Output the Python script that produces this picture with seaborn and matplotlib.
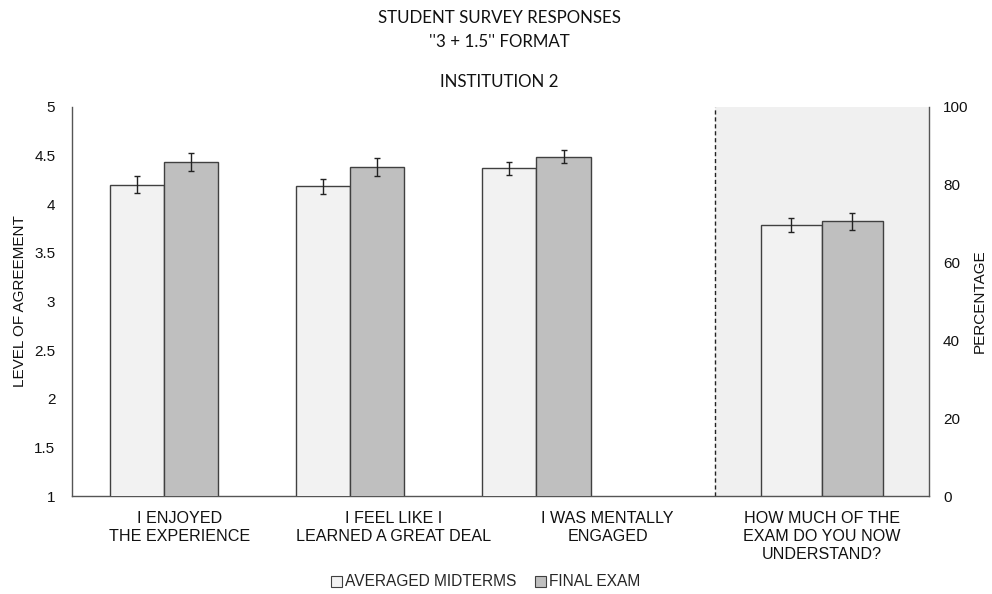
import numpy as np
import pandas as pd
import matplotlib
matplotlib.use("Agg")
import matplotlib.pyplot as plt
import seaborn as sns
from matplotlib.patches import Patch

# ---------------- data ----------------
categories = ["I ENJOYED\nTHE EXPERIENCE", "I FEEL LIKE I\nLEARNED A GREAT DEAL",
              "I WAS MENTALLY\nENGAGED", "HOW MUCH OF THE\nEXAM DO YOU NOW\nUNDERSTAND?"]
series = ["AVERAGED MIDTERMS", "FINAL EXAM"]
# agreement (left axis, 1-5) for first three questions
midterm_agree = [4.20, 4.185, 4.37]
final_agree = [4.435, 4.385, 4.49]
midterm_agree_err = [0.087, 0.077, 0.067]
final_agree_err = [0.09, 0.09, 0.07]
# percentage (right axis, 0-100) for the last question
midterm_pct = [69.7]
final_pct = [70.6]
midterm_pct_err = [1.8]
final_pct_err = [2.1]
left_ticks = [1, 1.5, 2, 2.5, 3, 3.5, 4, 4.5, 5]
left_ticklabels = ["1", "1.5", "2", "2.5", "3", "3.5", "4", "4.5", "5"]
right_ticks = [0, 20, 40, 60, 80, 100]

sns.set_theme(style="white")
plt.rcParams['font.family'] = ['Liberation Sans', 'DejaVu Sans']

fig = plt.figure(figsize=(9.92, 5.94), dpi=100)
ax = fig.add_axes([72/992, 1-496/594, (929-72)/992, (496-107)/594])
ax2 = ax.twinx()

colors = {"AVERAGED MIDTERMS": "#f2f2f2", "FINAL EXAM": "#bfbfbf"}
edge = "#404040"

# layout for the first three groups (Excel-like offset)
spacing = 0.869
offset = -0.07
pos_agree = offset + spacing * np.arange(len(midterm_agree))
df1 = pd.DataFrame({
    "pos": np.concatenate([pos_agree, pos_agree]),
    "series": [series[0]] * 3 + [series[1]] * 3,
    "value": midterm_agree + final_agree,
})
sns.barplot(data=df1, x="pos", y="value", hue="series", hue_order=series,
            native_scale=True, palette=colors, width=0.581, errorbar=None,
            edgecolor=edge, linewidth=1.0, ax=ax, legend=False, zorder=3)

df2 = pd.DataFrame({
    "pos": [3.0, 3.0],
    "series": series,
    "value": midterm_pct + final_pct,
})
sns.barplot(data=df2, x="pos", y="value", hue="series", hue_order=series,
            native_scale=True, palette=colors, width=0.57, errorbar=None,
            edgecolor=edge, linewidth=1.0, ax=ax2, legend=False, zorder=3)


def add_err(axis, errs_by_series):
    patches = sorted(axis.patches, key=lambda p: p.get_x())
    xs = [p.get_x() + p.get_width() / 2 for p in patches]
    hs = [p.get_height() for p in patches]
    errs = []
    for i in range(len(errs_by_series[0])):
        errs.append(errs_by_series[0][i])
        errs.append(errs_by_series[1][i])
    axis.errorbar(xs, hs, yerr=errs, fmt="none", ecolor="#222222",
                  elinewidth=1.0, capsize=2.5, capthick=1.0, zorder=4)


add_err(ax, [midterm_agree_err, final_agree_err])
add_err(ax2, [midterm_pct_err, final_pct_err])

# shaded region and dashed divider
ax.axvspan(2.5, 3.5, color="#f0f0f0", zorder=0, lw=0)
ax.axvline(2.5, color="#222222", ls=(0, (3, 2)), lw=1.0, zorder=1)

ax.set_xlim(-0.5, 3.5)
ax2.set_xlim(-0.5, 3.5)
ax.set_ylim(1, 5)
ax2.set_ylim(0, 100)
ax.set_yticks(left_ticks)
ax.set_yticklabels(left_ticklabels)
ax2.set_yticks(right_ticks)
ax.set_xticks(np.arange(len(categories)))
ax.set_xticklabels(categories, fontsize=11.6, color="#111111", linespacing=1.25)
ax.tick_params(axis="x", length=0, pad=11)
ax.tick_params(axis="y", length=0, labelsize=11, pad=12, colors="#111111")
ax2.tick_params(axis="y", length=0, labelsize=11, pad=10, colors="#111111")
ax.set_xlabel("")
ax2.set_xlabel("")
ax.set_ylabel("LEVEL OF AGREEMENT", fontsize=11, color="#111111")
ax2.set_ylabel("PERCENTAGE", fontsize=11, color="#111111")
ax.yaxis.set_label_coords((27 - 72) / (929 - 72), 0.5)
ax2.yaxis.set_label_coords((973 - 72) / (929 - 72), 0.5)

for a in (ax, ax2):
    a.spines["top"].set_visible(False)
    for s in ("left", "right", "bottom"):
        a.spines[s].set_color("#555555")
        a.spines[s].set_linewidth(1.0)
ax.spines["right"].set_visible(False)
ax2.spines["left"].set_visible(False)
ax2.spines["bottom"].set_visible(False)
ax2.patch.set_visible(False)

# titles
fig.text(0.503, 1 - 18/594, "STUDENT SURVEY RESPONSES", ha="center", va="center",
         fontsize=12.2, family="Lato", color="#111111")
fig.text(0.503, 1 - 42/594, "''3 + 1.5'' FORMAT", ha="center", va="center",
         fontsize=12.2, family="Lato", color="#111111")
fig.text(0.503, 1 - 82/594, "INSTITUTION 2", ha="center", va="center",
         fontsize=12.2, family="Lato", color="#111111")

# legend
handles = [Patch(facecolor=colors[s], edgecolor=edge, linewidth=0.8, label=s) for s in series]
fig.legend(handles=handles, loc="center", bbox_to_anchor=(0.49, 1 - 582/594),
           ncol=2, frameon=False, fontsize=11.2, handlelength=0.7, handleheight=0.7,
           handletextpad=0.2, columnspacing=1.2)

fig.savefig("out.png", dpi=100)
